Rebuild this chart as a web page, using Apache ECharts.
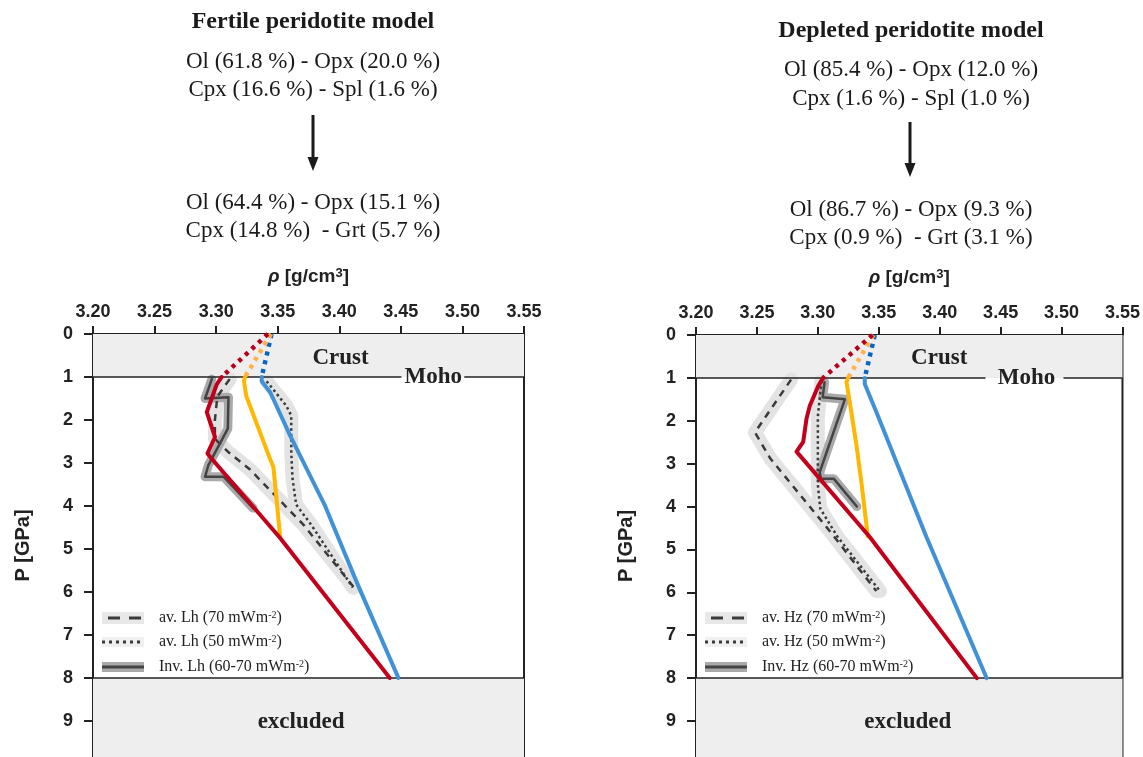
<!DOCTYPE html>
<html>
<head>
<meta charset="utf-8">
<script src="https://cdn.jsdelivr.net/npm/echarts@6/dist/echarts.min.js"></script>
<style>
  html, body { margin: 0; padding: 0; background: #fff; }
  #chart { width: 1143px; height: 757px; }
</style>
</head>
<body>
<div id="chart"></div>
<script>
// density (g/cm3) vs pressure (GPa), [rho, P]
const fertRedCrust = [[3.342, 0], [3.3045, 1]];
const fertRed = [[3.3045, 1], [3.3005, 1.17], [3.2924, 1.82], [3.2991, 2.4], [3.2929, 2.78], [3.2964, 2.9], [3.3518, 4.74], [3.441, 8]];
const fertYellowCrust = [[3.3445, 0], [3.3234, 1]];
const fertYellow = [[3.3234, 1], [3.3226, 1.1], [3.3245, 1.45], [3.3437, 2.9], [3.3465, 3.1], [3.352, 4.72]];
const fertBlueCrust = [[3.345, 0], [3.337, 1]];
const fertBlue = [[3.337, 1], [3.337, 1.1], [3.344, 1.36], [3.36, 2.36], [3.3885, 4.0], [3.415, 5.83], [3.448, 8]];
const fertAv70 = [[3.311, 1.05], [3.301, 1.45], [3.299, 2.0], [3.299, 2.44], [3.31, 2.75], [3.327, 3.14], [3.345, 3.67], [3.371, 4.44], [3.412, 5.9]];
const fertAv50 = [[3.341, 1.1], [3.357, 1.67], [3.361, 1.9], [3.361, 2.74], [3.362, 3.36], [3.365, 3.97], [3.377, 4.43], [3.411, 5.9]];
const fertInv = [[3.2965, 1.05], [3.291, 1.5], [3.31, 1.47], [3.3095, 2.2], [3.2937, 3.05], [3.291, 3.32], [3.306, 3.32], [3.33, 4.05]];

const deplRedCrust = [[3.3448, 0], [3.3043, 1]];
const deplRed = [[3.3043, 1], [3.3003, 1.19], [3.2934, 1.65], [3.2907, 1.95], [3.288, 2.49], [3.2825, 2.72], [3.3426, 4.71], [3.4305, 8]];
const deplYellowCrust = [[3.3455, 0], [3.3248, 1]];
const deplYellow = [[3.3248, 1], [3.3235, 1.1], [3.3262, 1.57], [3.3317, 2.57], [3.336, 3.5], [3.341, 4.7]];
const deplBlueCrust = [[3.3467, 0], [3.3385, 1]];
const deplBlue = [[3.3385, 1], [3.3385, 1.14], [3.3481, 1.8], [3.3891, 4.71], [3.4385, 8]];
const deplAv70 = [[3.278, 1.04], [3.2484, 2.27], [3.261, 2.88], [3.31, 4.58], [3.348, 5.97]];
const deplAv50 = [[3.303, 1.07], [3.3, 1.9], [3.3, 3.5], [3.302, 4.05], [3.316, 4.7], [3.351, 5.97]];
const deplInv = [[3.3055, 1.1], [3.304, 1.45], [3.3222, 1.5], [3.3015, 3.2], [3.3025, 3.35], [3.313, 3.35], [3.332, 4.0]];

// zones, ticks and annotations
const crustZone = [0, 1];
const excludedZone = [8, 9.84];
const rhoRange = [3.2, 3.55];
const pTicks = [0, 1, 2, 3, 4, 5, 6, 7, 8, 9];
const fertMohoGap = [3.4505, 3.5015];
const deplMohoGap = [3.4376, 3.5016];
const fertLabels = [['Crust', 3.401, 0.55], ['Moho', 3.4763, 1], ['excluded', 3.369, 9.03]];
const deplLabels = [['Crust', 3.3996, 0.53], ['Moho', 3.4713, 1], ['excluded', 3.3738, 9.03]];

const fertLegend = ['av. Lh (70 mWm{s|-2})', 'av. Lh (50 mWm{s|-2})', 'Inv. Lh (60-70 mWm{s|-2})'];
const deplLegend = ['av. Hz (70 mWm{s|-2})', 'av. Hz (50 mWm{s|-2})', 'Inv. Hz (60-70 mWm{s|-2})'];

const SANS = '"Liberation Sans", Arial, sans-serif';
const SERIF = '"Liberation Serif", "Times New Roman", serif';

const chart = echarts.init(document.getElementById('chart'));

function line(idx, data, color, width, type, z) {
    return {
        type: 'line',
        xAxisIndex: idx,
        yAxisIndex: idx,
        data: data,
        symbol: 'none',
        silent: true,
        z: z,
        lineStyle: { color: color, width: width, type: type, cap: type === 'solid' ? 'round' : 'butt', join: 'round' }
    };
}

function panel(idx, d, mohoGap, labels) {
    const helper = {
        type: 'line',
        xAxisIndex: idx,
        yAxisIndex: idx,
        data: [],
        silent: true,
        z: 1,
        markArea: {
            silent: true,
            itemStyle: { color: '#eeeeee' },
            data: [
                [{ coord: [rhoRange[0], crustZone[0]] }, { coord: [rhoRange[1], crustZone[1]] }],
                [{ coord: [rhoRange[0], excludedZone[0]] }, { coord: [rhoRange[1], excludedZone[1]] }]
            ]
        },
        markLine: {
            silent: true,
            symbol: ['none', 'none'],
            label: { show: false },
            lineStyle: { color: '#222', width: 1.5, type: 'solid' },
            data: [
                [{ coord: [rhoRange[0], 1] }, { coord: [mohoGap[0], 1] }],
                [{ coord: [mohoGap[1], 1] }, { coord: [rhoRange[1], 1] }],
                [{ coord: [rhoRange[0], 8] }, { coord: [rhoRange[1], 8] }]
            ]
        },
        markPoint: {
            silent: true,
            symbol: 'rect',
            symbolSize: 1,
            itemStyle: { color: 'rgba(0,0,0,0)' },
            label: {
                show: true,
                position: 'inside',
                formatter: '{b}',
                fontFamily: SERIF,
                fontWeight: 'bold',
                fontSize: 23,
                color: '#222'
            },
            data: labels.map(l => ({ name: l[0], coord: [l[1], l[2]] }))
        }
    };
    return [
        helper,
        line(idx, d.av70, '#e3e3e3', 14, 'solid', 2),
        line(idx, d.av50, '#e3e3e3', 14, 'solid', 2),
        line(idx, d.inv, '#a9a9a9', 9, 'solid', 3),
        line(idx, d.av70, '#3a3a3a', 2.5, [7, 6], 4),
        line(idx, d.av50, '#3a3a3a', 2.5, [2.5, 3], 4),
        line(idx, d.inv, '#444444', 2.5, 'solid', 4),
        line(idx, d.blue, '#4191d6', 4, 'solid', 5),
        line(idx, d.yellow, '#ffb700', 4, 'solid', 5),
        line(idx, d.red, '#c3001b', 4, 'solid', 6),
        line(idx, d.blueCrust, '#0a64c2', 4.5, [4, 5], 5),
        line(idx, d.yellowCrust, '#ffb04a', 4.5, [4, 5], 5),
        line(idx, d.redCrust, '#b5001c', 4.5, [4, 5], 6)
    ];
}

function xAxis(idx) {
    return {
        type: 'value',
        gridIndex: idx,
        position: 'top',
        min: rhoRange[0],
        max: rhoRange[1],
        interval: 0.05,
        name: '{r|ρ} [g/cm{s|3}]',
        nameLocation: 'middle',
        nameGap: 48,
        nameTextStyle: {
            fontFamily: SANS, fontWeight: 'bold', fontSize: 19, color: '#222',
            rich: {
                r: { fontFamily: SANS, fontWeight: 'bold', fontStyle: 'italic', fontSize: 19, color: '#222' },
                s: { fontFamily: SANS, fontWeight: 'bold', fontSize: 13, color: '#222', verticalAlign: 'top' }
            }
        },
        axisLine: { show: true, lineStyle: { color: '#222', width: 2 } },
        axisTick: { show: true, length: 8, lineStyle: { color: '#222', width: 2 } },
        axisLabel: {
            margin: 13,
            fontFamily: SANS, fontWeight: 'bold', fontSize: 18, color: '#222',
            formatter: v => v.toFixed(2)
        },
        splitLine: { show: false }
    };
}

function yAxis(idx) {
    return {
        type: 'value',
        gridIndex: idx,
        inverse: true,
        min: 0,
        max: excludedZone[1],
        interval: 1,
        name: 'P [GPa]',
        nameLocation: 'middle',
        nameRotate: 90,
        nameGap: 60,
        nameTextStyle: { fontFamily: SANS, fontWeight: 'bold', fontSize: 20, color: '#222' },
        axisLine: { show: true, lineStyle: { color: '#222', width: 2 } },
        axisTick: { show: true, length: 9, customValues: pTicks, lineStyle: { color: '#222', width: 2 } },
        axisLabel: {
            margin: 20,
            customValues: pTicks,
            fontFamily: SANS, fontWeight: 'bold', fontSize: 18, color: '#222',
            formatter: v => String(v)
        },
        splitLine: { show: false }
    };
}

function text(x, y, str, size, bold) {
    return {
        type: 'text',
        x: x, y: y,
        style: {
            text: str,
            fontFamily: SERIF,
            fontSize: size,
            fontWeight: bold ? 'bold' : 'normal',
            fill: '#1a1a1a',
            align: 'center',
            verticalAlign: 'middle'
        }
    };
}

function arrow(x, y1, y2) {
    return [
        { type: 'line', shape: { x1: x, y1: y1, x2: x, y2: y2 - 12 }, style: { stroke: '#1a1a1a', lineWidth: 3 } },
        { type: 'polygon', shape: { points: [[x - 5.5, y2 - 14], [x + 5.5, y2 - 14], [x, y2]] }, style: { fill: '#1a1a1a' } }
    ];
}

function legend(x0, textX, labels) {
    const rows = [618, 642, 667];
    const els = [];
    const w = 42;
    els.push({ type: 'rect', shape: { x: x0, y: rows[0] - 6, width: w, height: 12 }, style: { fill: '#e8e8e8' } });
    els.push({ type: 'line', shape: { x1: x0 + 6, y1: rows[0], x2: x0 + w, y2: rows[0] }, style: { stroke: '#3a3a3a', lineWidth: 3, lineDash: [12, 9] } });
    els.push({ type: 'rect', shape: { x: x0, y: rows[1] - 5, width: w, height: 10 }, style: { fill: '#f0f0f0' } });
    els.push({ type: 'line', shape: { x1: x0, y1: rows[1], x2: x0 + w, y2: rows[1] }, style: { stroke: '#3a3a3a', lineWidth: 3, lineDash: [3, 4] } });
    els.push({ type: 'rect', shape: { x: x0, y: rows[2] - 5, width: w, height: 10 }, style: { fill: '#a9a9a9' } });
    els.push({ type: 'line', shape: { x1: x0, y1: rows[2], x2: x0 + w, y2: rows[2] }, style: { stroke: '#444', lineWidth: 3 } });
    labels.forEach((lab, i) => {
        els.push({
            type: 'text',
            x: textX, y: rows[i],
            style: {
                text: lab,
                fontFamily: SERIF, fontSize: 16, fill: '#222',
                align: 'left', verticalAlign: 'middle',
                rich: { s: { fontFamily: SERIF, fontSize: 10, fill: '#222', verticalAlign: 'top' } }
            }
        });
    });
    return els;
}

const option = {
    animation: false,
    backgroundColor: '#fff',
    grid: [
        { left: 93, top: 334, width: 431, bottom: -5, show: true, borderColor: '#222', borderWidth: 2 },
        { left: 696, top: 335, width: 427, bottom: -5, show: true, borderColor: '#222', borderWidth: 2 }
    ],
    xAxis: [xAxis(0), xAxis(1)],
    yAxis: [yAxis(0), yAxis(1)],
    series: [
        ...panel(0, {
            red: fertRed, redCrust: fertRedCrust, yellow: fertYellow, yellowCrust: fertYellowCrust,
            blue: fertBlue, blueCrust: fertBlueCrust, av70: fertAv70, av50: fertAv50, inv: fertInv
        }, fertMohoGap, fertLabels),
        ...panel(1, {
            red: deplRed, redCrust: deplRedCrust, yellow: deplYellow, yellowCrust: deplYellowCrust,
            blue: deplBlue, blueCrust: deplBlueCrust, av70: deplAv70, av50: deplAv50, inv: deplInv
        }, deplMohoGap, deplLabels)
    ],
    graphic: [
        text(313, 22, 'Fertile peridotite model', 24, true),
        text(313, 62, 'Ol (61.8 %) - Opx (20.0 %)', 23, false),
        text(313, 90, 'Cpx (16.6 %) - Spl (1.6 %)', 23, false),
        ...arrow(313, 115, 171),
        text(313, 203, 'Ol (64.4 %) - Opx (15.1 %)', 23, false),
        text(313, 231, 'Cpx (14.8 %)  - Grt (5.7 %)', 23, false),

        text(911, 31, 'Depleted peridotite model', 24, true),
        text(911, 70, 'Ol (85.4 %) - Opx (12.0 %)', 23, false),
        text(911, 99, 'Cpx (1.6 %) - Spl (1.0 %)', 23, false),
        ...arrow(910, 122, 177),
        text(911, 210, 'Ol (86.7 %) - Opx (9.3 %)', 23, false),
        text(911, 238, 'Cpx (0.9 %)  - Grt (3.1 %)', 23, false),

        ...legend(102, 159, fertLegend),
        ...legend(705, 762, deplLegend)
    ]
};

chart.setOption(option);
</script>
</body>
</html>
